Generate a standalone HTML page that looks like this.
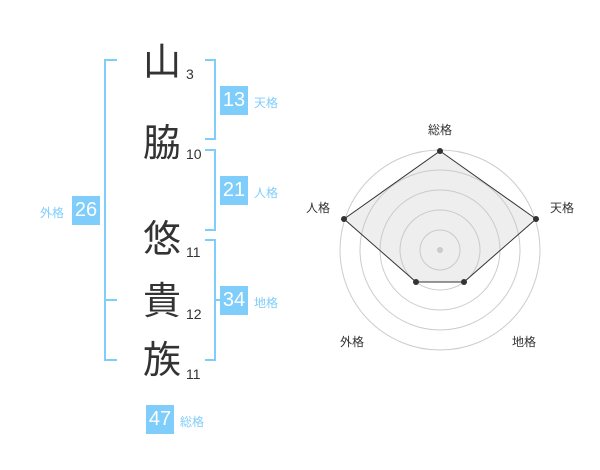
<!DOCTYPE html>
<html><head><meta charset="utf-8"><style>
body{margin:0;width:600px;height:470px;background:#fff;position:relative;overflow:hidden;font-family:"Liberation Sans","Noto Sans CJK JP",sans-serif}
.k{position:absolute;left:140px;width:44px;text-align:center;font-size:38px;color:#333;line-height:44px}
.n{position:absolute;left:186px;font-size:14px;color:#333}
.b{position:absolute;width:28px;height:29px;background:#7fcdfb;color:#fff;font-size:20px;line-height:29px;text-align:center}
.l{position:absolute;font-size:12px;color:#7fcdfb}
</style></head><body>
<div class="k" style="top:41px">山</div><div class="n" style="top:66px">3</div>
<div class="k" style="top:122px">脇</div><div class="n" style="top:146px">10</div>
<div class="k" style="top:218px">悠</div><div class="n" style="top:244px">11</div>
<div class="k" style="top:280px">貴</div><div class="n" style="top:306px">12</div>
<div class="k" style="top:339px">族</div><div class="n" style="top:366px">11</div>
<svg width="600" height="470" style="position:absolute;left:0;top:0">
<g stroke="#7fcdfb" stroke-width="2" fill="none">
<path d="M117 60H105V360H117M105 300H117"/>
<path d="M205 60H215V139H205"/>
<path d="M205 150H215V230H205"/>
<path d="M205 240H215V360H205M215 300H220"/>
</g>
<g stroke="#ccc" fill="none">
<circle cx="440" cy="250" r="20"/><circle cx="440" cy="250" r="40"/><circle cx="440" cy="250" r="60"/><circle cx="440" cy="250" r="80"/><circle cx="440" cy="250" r="100"/>
</g>
<circle cx="440" cy="250" r="3" fill="#ccc"/>
<polygon points="440,151 536,219 464,282 416,282 344,219" fill="rgba(200,200,200,0.3)" stroke="#333" stroke-width="1"/>
<g fill="#333"><circle cx="440" cy="151" r="3"/><circle cx="536" cy="219" r="3"/><circle cx="464" cy="282" r="3"/><circle cx="416" cy="282" r="3"/><circle cx="344" cy="219" r="3"/></g>
<g font-size="12" fill="#333" text-anchor="middle" font-family="Liberation Sans,Noto Sans CJK JP,sans-serif">
<text x="440" y="134">総格</text><text x="562" y="212">天格</text><text x="318" y="212">人格</text><text x="352" y="346">外格</text><text x="524" y="346">地格</text>
</g>
</svg>
<div class="b" style="left:220px;top:86px">13</div><div class="l" style="left:254px;top:94px">天格</div>
<div class="b" style="left:220px;top:176px">21</div><div class="l" style="left:254px;top:184px">人格</div>
<div class="b" style="left:220px;top:286px">34</div><div class="l" style="left:254px;top:294px">地格</div>
<div class="b" style="left:72px;top:196px">26</div><div class="l" style="left:40px;top:204px">外格</div>
<div class="b" style="left:146px;top:405px">47</div><div class="l" style="left:180px;top:413px">総格</div>
</body></html>
